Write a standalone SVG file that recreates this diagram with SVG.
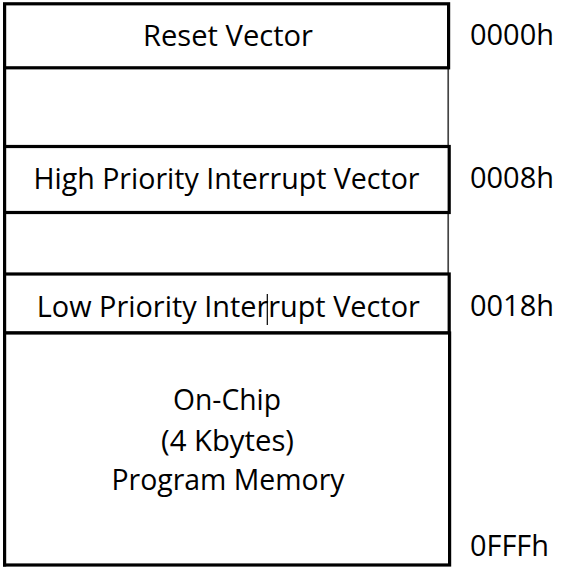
<svg xmlns="http://www.w3.org/2000/svg" width="562" height="569" viewBox="0 0 562 569">
<style>
.box{fill:#fff;stroke:#000;stroke-width:3.2}
.thin{stroke:#444;stroke-width:1.7;fill:none}
.thick{stroke:#000;stroke-width:3.2;fill:none}
text{font-family:"Open Sans","Noto Sans","Liberation Sans",sans-serif;font-size:29.5px;fill:#000}
.c{text-anchor:middle}
</style>
<rect x="0" y="0" width="562" height="569" fill="#fff"/>
<g id="frame">
<line class="thick" x1="4.6" y1="3" x2="4.6" y2="566.5"/>
<line class="thin" x1="448.2" y1="68" x2="448.2" y2="147"/>
<line class="thin" x1="448.2" y1="212" x2="448.2" y2="274"/>
</g>
<g id="reset">
<rect class="box" x="4.6" y="3.8" width="444" height="64"/>
<text class="c" x="228" y="46" textLength="170" lengthAdjust="spacingAndGlyphs">Reset Vector</text>
<text x="470" y="45" textLength="84" lengthAdjust="spacingAndGlyphs">0000h</text>
</g>
<g id="high">
<rect class="box" x="4.6" y="146.5" width="444.6" height="66"/>
<text class="c" x="226.5" y="188.5" textLength="386" lengthAdjust="spacingAndGlyphs">High Priority Interrupt Vector</text>
<text x="470" y="187.5" textLength="84" lengthAdjust="spacingAndGlyphs">0008h</text>
</g>
<g id="low">
<rect class="box" x="4.6" y="274" width="444.6" height="59"/>
<text class="c" x="228.3" y="317" textLength="383" lengthAdjust="spacingAndGlyphs">Low Priority Interrupt Vector</text>
<text x="470" y="315.5" textLength="84" lengthAdjust="spacingAndGlyphs">0018h</text>
<line x1="267.3" y1="294" x2="267.3" y2="325" stroke="#000" stroke-width="1.2"/>
</g>
<g id="memory">
<rect class="box" x="4.6" y="333" width="445" height="232"/>
<text class="c" x="227" y="410" textLength="108" lengthAdjust="spacingAndGlyphs">On-Chip</text>
<text class="c" x="227.5" y="451" textLength="133" lengthAdjust="spacingAndGlyphs">(4 Kbytes)</text>
<text class="c" x="228" y="490" textLength="233" lengthAdjust="spacingAndGlyphs">Program Memory</text>
<text x="470" y="556" textLength="79" lengthAdjust="spacingAndGlyphs">0FFFh</text>
</g>
</svg>
